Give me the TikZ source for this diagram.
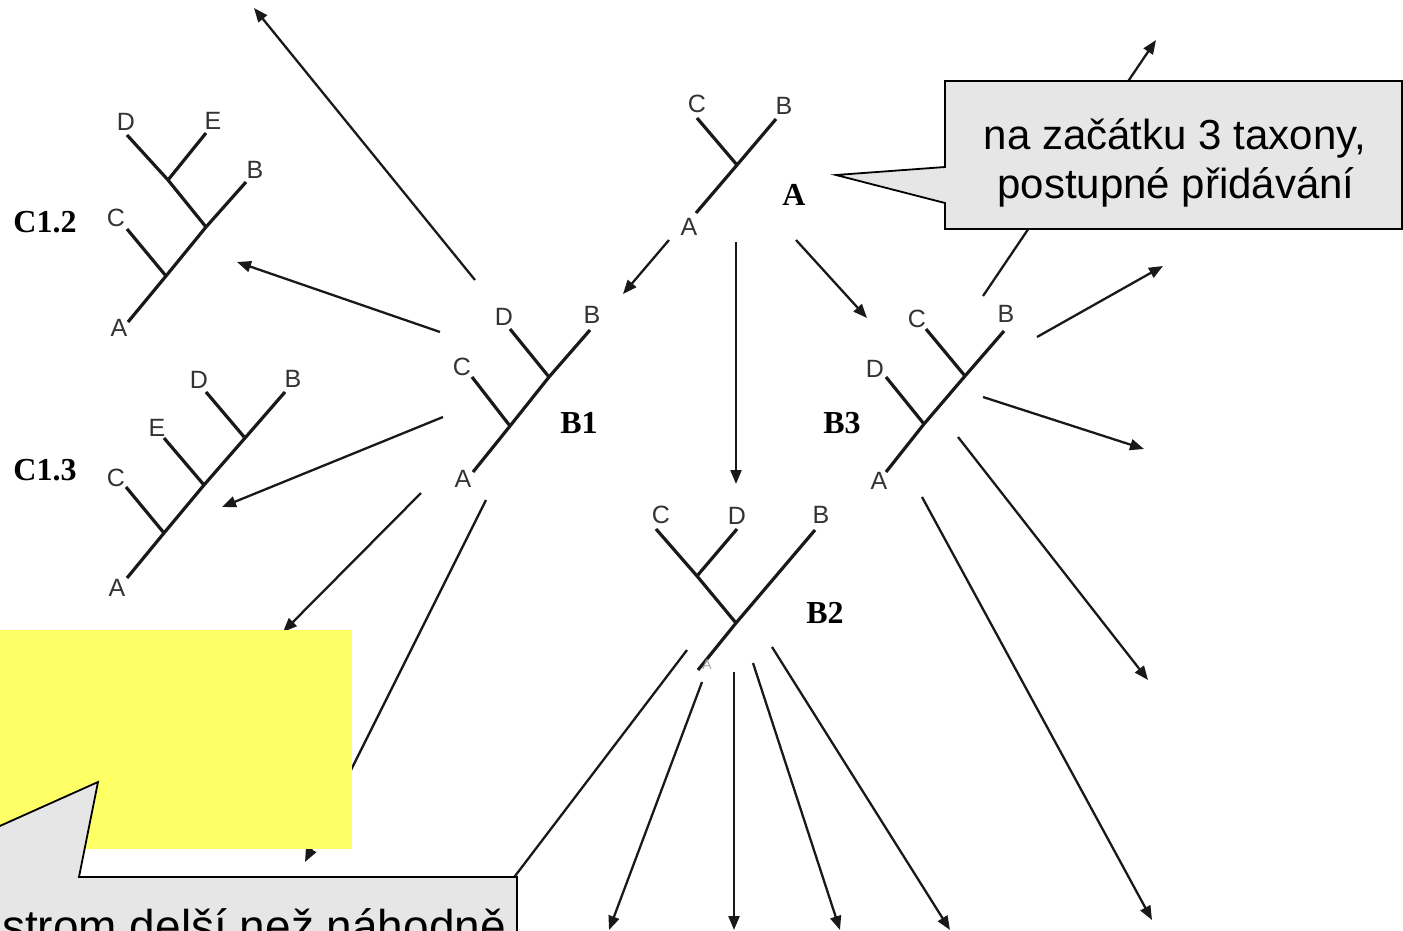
\documentclass[tikz,border=0pt]{standalone}
\usepackage{fontspec}
\setmainfont{Liberation Serif}
\setsansfont{Liberation Sans}
\usetikzlibrary{arrows.meta}
\definecolor{noteyellow}{RGB}{255,255,102}
\definecolor{notegray}{RGB}{230,230,230}
\tikzstyle{branch} = [line width=3.2pt, black!90]
\tikzstyle{arrow} = [line width=2.3pt, black!90, -{Triangle[length=14pt, width=11pt]}]
\tikzstyle{taxon} = [inner sep=0pt, text=black!80, font=\sffamily\fontsize{25}{25}\selectfont]
\tikzstyle{treename} = [inner sep=0pt, font=\bfseries\fontsize{32}{32}\selectfont]
\tikzstyle{callout} = [draw=black, line width=1.8pt, fill=notegray]
\tikzstyle{notetext} = [inner sep=0pt, anchor=base, font=\sffamily\fontsize{42}{50}\selectfont]

\begin{document}
\begin{tikzpicture}[x=1pt, y=-1pt]
    \useasboundingbox (0,0) rectangle (1403,930);
    \clip (0,0) rectangle (1403,930);

    % tree A
    \coordinate (A-a) at (696,213);
    \coordinate (A-j) at (737,165);
    \coordinate (A-c) at (697,118);
    \coordinate (A-b) at (776,119);
    \draw[branch] (A-a) -- (A-j) -- (A-b);
    \draw[branch] (A-c) -- (A-j);
    \node[taxon] (A-lc) at (697,104) {C};
    \node[taxon] (A-lb) at (784,106) {B};
    \node[taxon] (A-la) at (689,227) {A};
    \node[treename] (A-name) at (794,195) {A};

    % tree B1
    \coordinate (B1-a) at (473,472);
    \coordinate (B1-jc) at (510,426);
    \coordinate (B1-jd) at (549,377);
    \coordinate (B1-b) at (590,330);
    \coordinate (B1-c) at (472,377);
    \coordinate (B1-d) at (510,329);
    \draw[branch] (B1-a) -- (B1-jc) -- (B1-jd) -- (B1-b);
    \draw[branch] (B1-c) -- (B1-jc);
    \draw[branch] (B1-d) -- (B1-jd);
    \node[taxon] (B1-ld) at (504,317) {D};
    \node[taxon] (B1-lb) at (592,315) {B};
    \node[taxon] (B1-lc) at (462,367) {C};
    \node[taxon] (B1-la) at (463,479) {A};
    \node[treename] (B1-name) at (579,423) {B1};

    % tree B2
    \coordinate (B2-a) at (698,670);
    \coordinate (B2-j) at (736,623);
    \coordinate (B2-b) at (815,530);
    \coordinate (B2-jcd) at (697,576);
    \coordinate (B2-c) at (656,529);
    \coordinate (B2-d) at (737,529);
    \draw[branch] (B2-a) -- (B2-j) -- (B2-b);
    \draw[branch] (B2-c) -- (B2-jcd) -- (B2-j);
    \draw[branch] (B2-d) -- (B2-jcd);
    \node[taxon] (B2-lc) at (661,515) {C};
    \node[taxon] (B2-ld) at (737,516) {D};
    \node[taxon] (B2-lb) at (821,515) {B};
    \node[taxon, text=black!35, font=\sffamily\fontsize{14}{14}\selectfont] (B2-la) at (707,665) {A};
    \node[treename] (B2-name) at (825,613) {B2};

    % tree B3
    \coordinate (B3-a) at (886,472);
    \coordinate (B3-jd) at (924,424);
    \coordinate (B3-jc) at (965,376);
    \coordinate (B3-b) at (1004,331);
    \coordinate (B3-d) at (886,377);
    \coordinate (B3-c) at (926,329);
    \draw[branch] (B3-a) -- (B3-jd) -- (B3-jc) -- (B3-b);
    \draw[branch] (B3-d) -- (B3-jd);
    \draw[branch] (B3-c) -- (B3-jc);
    \node[taxon] (B3-lc) at (917,319) {C};
    \node[taxon] (B3-lb) at (1006,314) {B};
    \node[taxon] (B3-ld) at (875,369) {D};
    \node[taxon] (B3-la) at (879,481) {A};
    \node[treename] (B3-name) at (842,423) {B3};

    % tree C1.2
    \coordinate (C12-a) at (128,322);
    \coordinate (C12-jc) at (166,276);
    \coordinate (C12-j) at (206,227);
    \coordinate (C12-b) at (246,182);
    \coordinate (C12-c) at (127,229);
    \coordinate (C12-jde) at (168,180);
    \coordinate (C12-d) at (127,135);
    \coordinate (C12-e) at (206,133);
    \draw[branch] (C12-a) -- (C12-jc) -- (C12-j) -- (C12-b);
    \draw[branch] (C12-c) -- (C12-jc);
    \draw[branch] (C12-d) -- (C12-jde) -- (C12-j);
    \draw[branch] (C12-e) -- (C12-jde);
    \node[taxon] (C12-ld) at (126,122) {D};
    \node[taxon] (C12-le) at (213,121) {E};
    \node[taxon] (C12-lb) at (255,170) {B};
    \node[taxon] (C12-lc) at (116,218) {C};
    \node[taxon] (C12-la) at (119,328) {A};
    \node[treename] (C12-name) at (45,222) {C1.2};

    % tree C1.3
    \coordinate (C13-a) at (127,578);
    \coordinate (C13-jc) at (164,533);
    \coordinate (C13-je) at (204,485);
    \coordinate (C13-jd) at (245,438);
    \coordinate (C13-b) at (285,392);
    \coordinate (C13-c) at (126,487);
    \coordinate (C13-e) at (164,438);
    \coordinate (C13-d) at (206,392);
    \draw[branch] (C13-a) -- (C13-jc) -- (C13-je) -- (C13-jd) -- (C13-b);
    \draw[branch] (C13-c) -- (C13-jc);
    \draw[branch] (C13-e) -- (C13-je);
    \draw[branch] (C13-d) -- (C13-jd);
    \node[taxon] (C13-ld) at (199,380) {D};
    \node[taxon] (C13-lb) at (293,379) {B};
    \node[taxon] (C13-le) at (157,428) {E};
    \node[taxon] (C13-lc) at (116,478) {C};
    \node[taxon] (C13-la) at (117,588) {A};
    \node[treename] (C13-name) at (45,470) {C1.3};

    % arrows between trees
    \foreach \n/\sx/\sy/\ex/\ey in {a1/669/240/623/294, a2/736/242/736/484, a3/796/240/867/318,
                                    b1/475/280/254/8, b2/440/332/237/262, b3/443/417/222/507,
                                    b4/421/493/283/632, b5/486/500/305/862,
                                    c1/687/650/493/905, c2/702/682/609/930, c3/734/672/734/930,
                                    c4/753/663/840/930, c5/772/647/950/930,
                                    d1/983/296/1156/40, d2/1037/337/1163/266, d3/983/397/1144/449,
                                    d4/958/437/1148/680, d5/922/497/1152/920}
    {
      \coordinate (from-\n) at (\sx,\sy);
      \coordinate (to-\n) at (\ex,\ey);
      \draw[arrow] (from-\n) -- (to-\n);
    }

    % yellow patch
    \fill[noteyellow] (0,630) rectangle (352,849);

    % callout, top right
    \draw[callout] (945,81) -- (1402,81) -- (1402,229) -- (945,229) -- (945,203)
                   -- (836,175) -- (945,167) -- cycle;
    \node[notetext] (note-top1) at (1175,149) {na začátku 3 taxony,};
    \node[notetext] (note-top2) at (1176,198) {postupné přidávání};

    % callout, bottom left
    \draw[callout] (-400,877) -- (-114,877) -- (98,782) -- (79,877) -- (517,877)
                   -- (517,1000) -- (-400,1000) -- cycle;
    \node[notetext, anchor=base west, font=\sffamily\fontsize{46}{50}\selectfont]
      (note-bottom) at (2,942) {strom delší než náhodně};
\end{tikzpicture}
\end{document}
